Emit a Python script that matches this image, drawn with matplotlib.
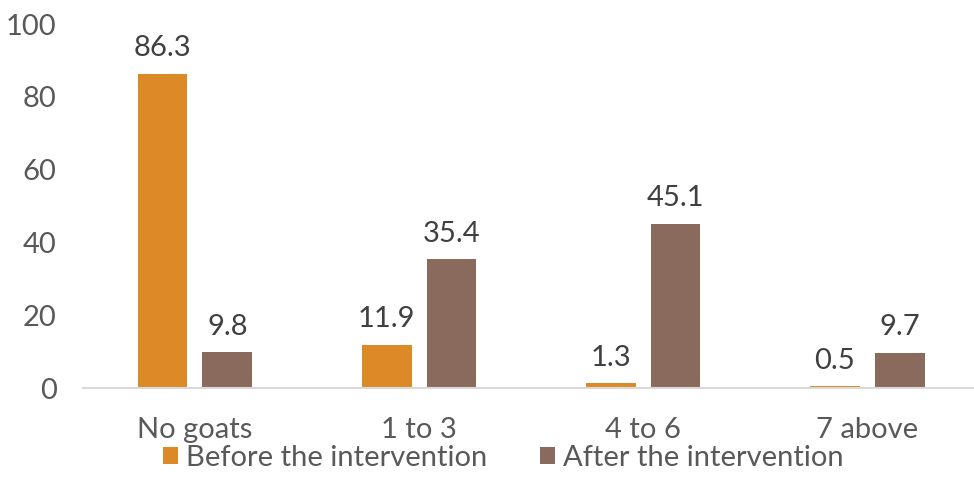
import matplotlib.pyplot as plt
import numpy as np

# Goat ownership before / after the intervention (%)
categories = ['No goats', '1 to 3', '4 to 6', '7 above']
before = [86.3, 11.9, 1.3, 0.5]
after = [9.8, 35.4, 45.1, 9.7]

plt.rcParams['font.family'] = ['Lato', 'DejaVu Sans']

fig = plt.figure(figsize=(9.74, 4.99), dpi=100)
ax = fig.add_axes([0.0852, 0.2224, 0.92, 0.7295])

x = np.arange(len(categories))
width = 0.223
offset = 0.145

b1 = ax.bar(x - offset, before, width, color='#DC8A28', label='Before the intervention')
b2 = ax.bar(x + offset, after, width, color='#8A6A5C', label='After the intervention')

ax.set_ylim(0, 100)
ax.set_xlim(-0.5, 3.5)
ax.set_yticks(range(0, 101, 20))
ax.set_xticks(x)
ax.set_xticklabels(categories)
ax.tick_params(axis='both', length=0, labelsize=21, colors='#595959')
ax.tick_params(axis='x', pad=21)
ax.tick_params(axis='y', pad=19)

for s in ['top', 'right', 'left']:
    ax.spines[s].set_visible(False)
ax.spines['bottom'].set_color('#D9D9D9')
ax.spines['bottom'].set_linewidth(1.5)

def autolabel(rects):
    for rect in rects:
        h = rect.get_height()
        ax.annotate(f'{h}', xy=(rect.get_x() + rect.get_width() / 2, h),
                    xytext=(0, 9), textcoords='offset points',
                    ha='center', va='bottom', fontsize=21, color='#404040')

autolabel(b1)
autolabel(b2)

fig.legend(loc='center', bbox_to_anchor=(0.517, 0.082), ncol=2, frameon=False,
           fontsize=21, labelcolor='#595959', handlelength=0.5, handleheight=0.5,
           handletextpad=0.3, columnspacing=1.8)

fig.savefig('out.png', dpi=100)
